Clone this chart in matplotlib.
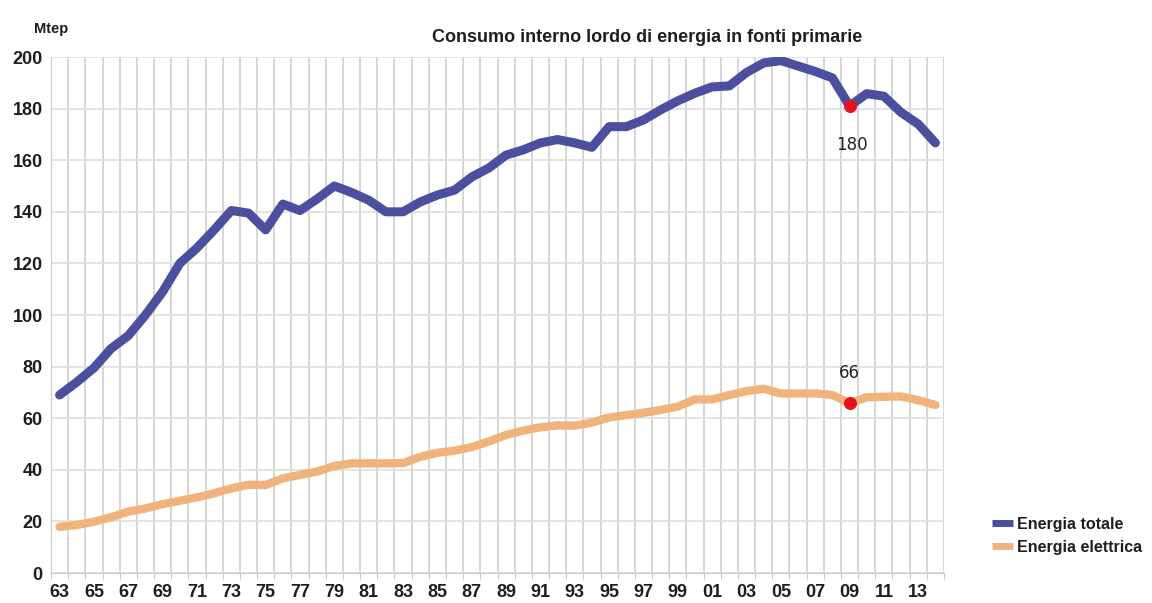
import matplotlib.pyplot as plt
from matplotlib.lines import Line2D
from matplotlib.ticker import MultipleLocator

years = list(range(1963, 2015))
totale = [69, 74, 79.5, 87, 92, 100, 109, 120, 126, 133,
          140.5, 139.5, 133, 143, 140.5, 145, 150, 147.5, 144.5, 140,
          140, 143.8, 146.5, 148.4, 153.5, 157, 162, 164, 166.7, 168,
          166.7, 165, 173, 173, 175.6, 179.5, 183, 186, 188.4, 188.8,
          194, 197.7, 198.6, 196.5, 194.4, 191.9, 181, 185.8, 184.8, 178.5,
          174, 166.7]
elettrica = [17.9, 18.6, 19.9, 21.6, 23.8, 25, 26.7, 28, 29.3, 30.9,
             32.8, 34.2, 34.1, 36.7, 38, 39.3, 41.5, 42.5, 42.5, 42.5,
             42.6, 45, 46.6, 47.4, 48.8, 51, 53.5, 55.2, 56.5, 57.2,
             57.1, 58.3, 60.3, 61.2, 62.1, 63.2, 64.5, 67.3, 67.3, 69,
             70.5, 71.4, 69.6, 69.6, 69.6, 69, 65.8, 68.1, 68.3, 68.4,
             67, 65.1]
x_labels = ["63", "65", "67", "69", "71", "73", "75", "77", "79", "81", "83",
            "85", "87", "89", "91", "93", "95", "97", "99", "01", "03", "05",
            "07", "09", "11", "13"]
x_label_years = list(range(1963, 2014, 2))
highlight_year = 2009
highlight_tot = 180
highlight_ele = 66

BOLD = "Liberation Sans"
BLUE = "#4a4f9e"
ORANGE = "#f1b37c"
TXT = "#1e1e1e"

fig = plt.figure(figsize=(11.52, 6.03), dpi=100)
ax = fig.add_axes([51 / 1152, 1 - 573 / 603, (944 - 51) / 1152, (573 - 57) / 603])

ax.plot(years, totale, color=BLUE, lw=6.5, solid_capstyle="round",
        solid_joinstyle="round", zorder=3)
ax.plot(years, elettrica, color=ORANGE, lw=6, solid_capstyle="round",
        solid_joinstyle="round", zorder=3)

i = years.index(highlight_year)
ax.scatter([highlight_year, highlight_year], [totale[i], elettrica[i]],
           s=70, color="#e8121c", zorder=4)
ax.annotate(str(highlight_tot), (highlight_year, totale[i]), xytext=(2, -28),
            textcoords="offset points", ha="center", va="center",
            fontsize=12, color="#222222")
ax.annotate(str(highlight_ele), (highlight_year, elettrica[i]), xytext=(0, 22),
            textcoords="offset points", ha="center", va="center",
            fontsize=12, color="#222222")

ax.set_xlim(1962.5, 2014.5)
ax.set_ylim(0, 200)
ax.set_xticks(x_label_years)
ax.set_xticklabels(x_labels)
ax.xaxis.set_minor_locator(MultipleLocator(1, offset=0.5))
ax.yaxis.set_major_locator(MultipleLocator(20))
ax.grid(True, which="minor", axis="x", color="#cfcfcf", lw=1.2)
ax.grid(True, which="major", axis="y", color="#dedede", lw=1.2)
ax.tick_params(axis="x", which="major", length=0, pad=8)
ax.tick_params(axis="x", which="minor", length=4, color="#bbbbbb")
ax.tick_params(axis="y", length=0, pad=6)
for lab in ax.get_xticklabels() + ax.get_yticklabels():
    lab.set_fontfamily(BOLD)
    lab.set_fontweight("bold")
    lab.set_fontsize(13)
    lab.set_color(TXT)

for s in ["top", "right"]:
    ax.spines[s].set_visible(False)
ax.spines["left"].set_color("#c8c8c8")
ax.spines["bottom"].set_color("#c8c8c8")

fig.text(51 / 1152, 1 - 29 / 603, "Mtep", fontfamily=BOLD, fontweight="bold",
         fontsize=10.5, ha="center", va="center", color=TXT)
fig.text(647 / 1152, 1 - 37 / 603, "Consumo interno lordo di energia in fonti primarie",
         fontfamily=BOLD, fontweight="bold", fontsize=13, ha="center",
         va="center", color=TXT)

handles = [Line2D([], [], color=BLUE, lw=5, solid_capstyle="butt"),
           Line2D([], [], color=ORANGE, lw=5, solid_capstyle="butt")]
fig.legend(handles, ["Energia totale", "Energia elettrica"],
           loc="center left", bbox_to_anchor=(978 / 1152, 1 - 536 / 603),
           frameon=False, handlelength=1.3, handletextpad=0.25,
           labelspacing=0.5, labelcolor=TXT,
           prop={"family": BOLD, "weight": "bold", "size": 11.5})

fig.savefig("out.png", dpi=100)
